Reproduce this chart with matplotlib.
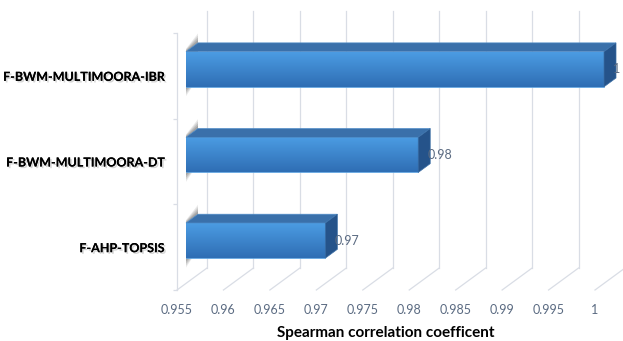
import numpy as np
import matplotlib
matplotlib.use("Agg")
import matplotlib.pyplot as plt
from matplotlib.patches import Polygon
import matplotlib.patheffects as pe

# ---- data -------------------------------------------------------------
methods = ["F-AHP-TOPSIS", "F-BWM-MULTIMOORA-DT", "F-BWM-MULTIMOORA-IBR"]
spearman = [0.97, 0.98, 1.0]
value_labels = ["0.97", "0.98", "1"]
x_ticks = [0.955, 0.96, 0.965, 0.97, 0.975, 0.98, 0.985, 0.99, 0.995, 1.0]
x_tick_labels = ["0.955", "0.96", "0.965", "0.97", "0.975", "0.98",
                 "0.985", "0.99", "0.995", "1"]
x_title = "Spearman correlation coefficent"

# ---- style ------------------------------------------------------------
plt.rcParams["font.family"] = ["Lato", "DejaVu Sans"]
GRID = "#d9dde5"
TICK_TXT = "#5b6b82"
FRONT_TOP = np.array([0x4c, 0x9d, 0xe4]) / 255
FRONT_BOT = np.array([0x2f, 0x6e, 0xb4]) / 255
TOP_FACE = "#3a70aa"
SIDE_FACE = "#25538a"

W, H = 6.23, 3.41
fig = plt.figure(figsize=(W, H), dpi=100)
ax_l, ax_b, ax_w, ax_h = 1.77, 0.51, 4.18, 2.57
ax = fig.add_axes([ax_l / W, ax_b / H, ax_w / W, ax_h / H])
xmin, xmax = x_ticks[0], x_ticks[-1]
ymin, ymax = -0.5, len(methods) - 0.5

# oblique depth vector (inches) expressed in data units
depth_in = (0.30, 0.22)
DX = depth_in[0] / ax_w * (xmax - xmin)
DY = depth_in[1] / ax_h * (ymax - ymin)
d0, d1 = 0.3, 0.7          # bar front / back depth
bar_h = 0.41

# back wall gridlines and floor lines
for t in x_ticks:
    ax.plot([t + DX, t + DX], [ymin + DY, ymax + DY], color=GRID, lw=0.9,
            clip_on=False, zorder=0)
    ax.plot([t, t + DX], [ymin, ymin + DY], color=GRID, lw=0.9,
            clip_on=False, zorder=0)

# bars in oblique 3D
grad = np.linspace(0, 1, 64)[:, None, None]
grad_img = FRONT_BOT * (1 - grad) + FRONT_TOP * grad
for i, (v, lab) in enumerate(zip(spearman, value_labels)):
    yc = i + d0 * DY
    yb = yc - bar_h / 2
    yt = yc + bar_h / 2
    xl = xmin + d0 * DX
    xr = v + d0 * DX
    bx, by = (d1 - d0) * DX, (d1 - d0) * DY

    # soft shadow cast on the left wall
    for k, a in enumerate([0.10, 0.12, 0.14, 0.16]):
        e = 0.11 - k * 0.025
        ax.add_patch(Polygon([(xl, yb - e), (xl, yt + e * 0.3),
                              (xl + bx, yt + by + e), (xl + bx, yb + by)],
                             closed=True, facecolor="#303030", alpha=a,
                             edgecolor="none", zorder=1, clip_on=False))

    bars = ax.barh(yc, v - xmin, left=xl, height=bar_h, color=FRONT_TOP,
                   edgecolor="#5a9fdc", linewidth=0.5, zorder=3)
    bars.patches[0].set_clip_on(False)
    im = ax.imshow(grad_img, extent=[xl, xr, yb, yt], origin="lower",
                   aspect="auto", zorder=3.5, interpolation="bilinear")
    im.set_clip_box(fig.bbox)
    im.set_clip_path(bars.patches[0])

    ax.add_patch(Polygon([(xl, yt), (xr, yt), (xr + bx, yt + by),
                          (xl + bx, yt + by)], closed=True,
                         facecolor=TOP_FACE, edgecolor="#4f8cc8",
                         linewidth=0.5, zorder=4, clip_on=False))
    ax.add_patch(Polygon([(xr, yb), (xr, yt), (xr + bx, yt + by),
                          (xr + bx, yb + by)], closed=True,
                         facecolor=SIDE_FACE, edgecolor="#3b6fa6",
                         linewidth=0.5, zorder=4, clip_on=False))

    ax.text(v + 0.6 * DX, yc, lab, ha="left", va="center", fontsize=9,
            color=TICK_TXT, zorder=5, clip_on=False)

ax.set_xlim(xmin, xmax)
ax.set_ylim(ymin, ymax)

# axes furniture
for s in ["top", "right", "bottom"]:
    ax.spines[s].set_visible(False)
ax.spines["left"].set_color(GRID)
ax.spines["left"].set_linewidth(0.9)

ax.set_xticks(x_ticks)
ax.set_xticklabels(x_tick_labels)
ax.tick_params(axis="x", length=0, pad=10, labelsize=9, labelcolor=TICK_TXT)

ax.set_yticks(range(len(methods)))
ax.set_yticklabels(methods, fontweight="bold")
ax.set_yticks(np.arange(ymin, ymax + 0.01, 1.0), minor=True)
ax.tick_params(axis="y", which="major", length=0, pad=9, labelsize=9,
               labelcolor="black")
ax.tick_params(axis="y", which="minor", length=3, color=GRID, width=0.9)
for t in ax.get_yticklabels():
    t.set_path_effects([pe.withSimplePatchShadow(offset=(1.2, -1.2),
                                                 shadow_rgbFace="#888888",
                                                 alpha=0.35),
                        pe.Normal()])

ax.set_xlabel(x_title, fontsize=11, fontweight="bold", color="black",
              labelpad=7)
ax.patch.set_visible(False)

fig.savefig("out.png", dpi=100)
